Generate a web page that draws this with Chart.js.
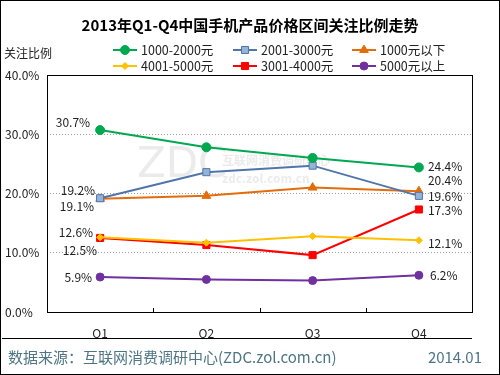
<!DOCTYPE html>
<html>
<head>
    <meta charset="UTF-8">
    <title>2013年Q1-Q4中国手机产品价格区间关注比例走势</title>
    <script src="https://cdn.jsdelivr.net/npm/chart.js"></script>
    <style>
        body {
          margin: 0;
          padding: 0;
          background-color: #ffffff;
        }
        canvas {
          display: block;
        }
    </style>
</head>
<body>
<canvas id="lineChart" width="500" height="375"></canvas>

<script>
    // data
    const quarters = ["Q1", "Q2", "Q3", "Q4"];
    const seriesNames = ["1000-2000元", "2001-3000元", "1000元以下", "4001-5000元", "3001-4000元", "5000元以上"];
    const s1000to2000 = [30.7, 27.8, 26.0, 24.4];
    const s2001to3000 = [19.2, 23.6, 24.7, 19.6];
    const sUnder1000 = [19.1, 19.6, 21.0, 20.4];
    const s4001to5000 = [12.6, 11.7, 12.8, 12.1];
    const s3001to4000 = [12.5, 11.3, 9.6, 17.3];
    const sOver5000 = [5.9, 5.5, 5.3, 6.2];
    const yTickValues = [0, 10, 20, 30, 40];

    const FONT = "'Noto Sans CJK SC', 'DejaVu Sans', sans-serif";

    const styles = [
      { color: "#00a850", fill: "#00a850", point: "circle", r: 4.5 },
      { color: "#4f75aa", fill: "#95b3d7", point: "rect", r: 5 },
      { color: "#e46c0a", fill: "#e46c0a", point: "triangle", r: 5 },
      { color: "#ffc000", fill: "#ffc000", point: "rectRot", r: 3.5 },
      { color: "#ff0000", fill: "#ff0000", point: "rect", r: 5 },
      { color: "#7030a0", fill: "#7030a0", point: "circle", r: 4 }
    ];
    const allSeries = [s1000to2000, s2001to3000, sUnder1000, s4001to5000, s3001to4000, sOver5000];

    // label nudges for first and last point: [dx, dy]
    const labelNudge = [
      [[-10, -8], [9, -1]],
      [[-5, -8], [9, 1]],
      [[-6, 8], [9, -11]],
      [[-7, -5], [9, 3]],
      [[-3, 12], [9, 1]],
      [[-8, 0], [11, 0]]
    ];

    function pt(ctx, style, x, y) {
      ctx.save();
      ctx.fillStyle = style.fill;
      ctx.strokeStyle = style.color;
      ctx.lineWidth = 1;
      Chart.helpers.drawPoint(ctx, { pointStyle: style.point, radius: style.r, rotation: 0, borderWidth: 1 }, x, y);
      ctx.restore();
    }

    const decorPlugin = {
      id: "decor",
      beforeDatasetsDraw(chart) {
        const ctx = chart.ctx;
        // faint watermark
        ctx.save();
        ctx.fillStyle = "rgba(205,205,205,0.4)";
        ctx.font = "42px 'DejaVu Sans', sans-serif";
        ctx.textBaseline = "middle";
        ctx.fillText("ZDC", 137, 166);
        ctx.font = "bold 12px " + FONT;
        ctx.fillText("互联网消费调研中心", 222, 160);
        ctx.fillText("zdc.zol.com.cn", 222, 178);
        ctx.restore();
      },
      afterDraw(chart) {
        const ctx = chart.ctx;
        const a = chart.chartArea;
        const xs = chart.scales.x;
        ctx.save();
        // plot box
        ctx.strokeStyle = "#000";
        ctx.lineWidth = 1;
        ctx.strokeRect(Math.round(a.left) + 0.5, Math.round(a.top) + 0.5, Math.round(a.right - a.left), Math.round(a.bottom - a.top));
        // category boundary ticks
        const step = xs.getPixelForValue(1) - xs.getPixelForValue(0);
        ctx.beginPath();
        for (let i = 0; i < quarters.length - 1; i++) {
          const x = Math.round(xs.getPixelForValue(i) + step / 2) + 0.5;
          ctx.moveTo(x, a.bottom);
          ctx.lineTo(x, a.bottom - 4);
        }
        ctx.stroke();

        // title
        ctx.fillStyle = "#000";
        ctx.textAlign = "center";
        ctx.textBaseline = "middle";
        ctx.font = "bold 15px " + FONT;
        ctx.fillText("2013年Q1-Q4中国手机产品价格区间关注比例走势", 250, 25);

        // y-axis title
        ctx.textAlign = "left";
        ctx.font = "12px " + FONT;
        ctx.fillStyle = "#222";
        ctx.fillText("关注比例", 4, 53);

        // legend
        const cols = [113, 233, 352];
        const rows = [50, 66];
        ctx.font = "12.5px " + FONT;
        seriesNames.forEach((name, i) => {
          const x = cols[i % 3], y = rows[Math.floor(i / 3)];
          const st = styles[i];
          ctx.strokeStyle = st.color;
          ctx.lineWidth = 2;
          ctx.beginPath();
          ctx.moveTo(x, y);
          ctx.lineTo(x + 24, y);
          ctx.stroke();
          pt(ctx, st, x + 12, y);
          ctx.fillStyle = "#222";
          ctx.textAlign = "left";
          ctx.fillText(name, x + 28, y);
        });

        // data labels at Q1 and Q4
        ctx.font = "12px " + FONT;
        ctx.fillStyle = "#222";
        chart.data.datasets.forEach((ds, di) => {
          const meta = chart.getDatasetMeta(di);
          const last = meta.data.length - 1;
          [0, last].forEach((pi, k) => {
            const el = meta.data[pi];
            const n = labelNudge[di][k];
            ctx.textAlign = k === 0 ? "right" : "left";
            ctx.fillText(ds.data[pi].toFixed(1) + "%", el.x + n[0], el.y + n[1]);
          });
        });

        // footer
        ctx.strokeStyle = "#000";
        ctx.lineWidth = 1;
        ctx.beginPath();
        ctx.moveTo(2, 338.5);
        ctx.lineTo(472, 338.5);
        ctx.stroke();
        ctx.fillStyle = "#4d7585";
        ctx.font = "15px " + FONT;
        ctx.textAlign = "left";
        ctx.fillText("数据来源：互联网消费调研中心(ZDC.zol.com.cn)", 8, 357);
        ctx.textAlign = "right";
        ctx.fillText("2014.01", 482, 357);

        // outer frame
        ctx.strokeStyle = "#000";
        ctx.strokeRect(0.5, 0.5, 499, 374);
        ctx.restore();
      }
    };

    const ctx = document.getElementById("lineChart").getContext("2d");
    new Chart(ctx, {
      type: "line",
      data: {
        labels: quarters,
        datasets: allSeries.map((vals, i) => ({
          label: seriesNames[i],
          data: vals,
          borderColor: styles[i].color,
          backgroundColor: styles[i].fill,
          pointBackgroundColor: styles[i].fill,
          pointBorderColor: styles[i].color,
          pointStyle: styles[i].point,
          pointRadius: styles[i].r,
          pointBorderWidth: 1,
          borderWidth: 2,
          tension: 0,
          fill: false
        }))
      },
      options: {
        responsive: false,
        animation: false,
        devicePixelRatio: 1,
        layout: { padding: { top: 75, left: 5, right: 28, bottom: 37 } },
        plugins: {
          legend: { display: false },
          tooltip: { enabled: false },
          title: { display: false }
        },
        scales: {
          x: {
            offset: true,
            grid: { display: false },
            border: { display: false },
            ticks: { color: "#222", font: { family: FONT, size: 12 }, padding: 6 },
            afterFit: s => { s.height = 26; }
          },
          y: {
            min: 0,
            max: 40,
            afterBuildTicks: s => { s.ticks = yTickValues.map(v => ({ value: v })); },
            grid: {
              drawTicks: false,
              color: c => (c.tick && (c.tick.value === 0 || c.tick.value === 40)) ? "rgba(0,0,0,0)" : "#a0a0a0",
              lineWidth: 1
            },
            border: { display: false, dash: [1, 2] },
            ticks: {
              color: "#222",
              crossAlign: "far",
              font: { family: FONT, size: 12 },
              callback: v => v.toFixed(1) + "%"
            },
            afterFit: s => { s.width = 42; }
          }
        }
      },
      plugins: [decorPlugin]
    });
</script>
</body>
</html>
